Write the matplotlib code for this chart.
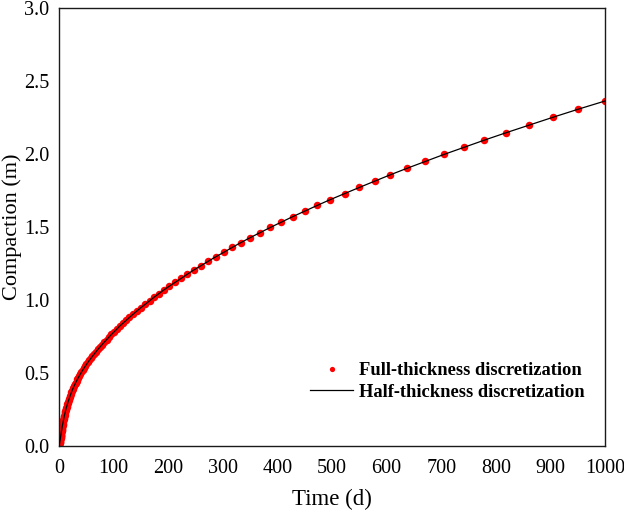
import numpy as np
import matplotlib
matplotlib.use('Agg')
import matplotlib.pyplot as plt

# time (d) and compaction (m)
time_full = [
    0, 0.5, 0.7, 1.0, 1.2, 1.5, 1.7, 2.0, 2.2, 2.5, 2.6, 2.8, 2.9, 3.0, 3.2,
    3.4, 3.5, 3.7, 3.9, 4.1, 4.3, 4.6, 4.8, 5.0, 5.3, 5.6, 5.9, 6.2, 6.5,
    6.8, 7.2, 7.5, 7.9, 8.3, 8.8, 9.2, 9.7, 10.2, 10.7, 11.2, 11.8, 12.4,
    13.0, 13.7, 14.4, 15.1, 15.9, 16.7, 17.6, 18.5, 19.4, 20.4, 21.5, 22.6,
    23.7, 25.0, 26.2, 27.6, 29.0, 30.5, 32.0, 33.7, 35.4, 37.2, 39.1, 41.1,
    43.2, 45.4, 47.7, 50.1, 52.7, 55.4, 58.2, 61.2, 64.3, 67.6, 71.0, 74.7,
    78.5, 82.5, 87, 91, 96, 101, 106, 111, 117, 123, 129, 136, 143, 150,
    158, 166, 174, 183, 192, 202, 213, 224, 235, 247, 260, 273, 287, 302,
    317, 333, 350, 368, 387, 407, 428, 450, 473, 497, 523, 550, 578, 607,
    638, 671, 705, 741, 779, 819, 861, 905, 951, 1000]
comp_full = [
    0, 0.010, 0.014, 0.020, 0.024, 0.030, 0.034, 0.040, 0.044, 0.050, 0.054,
    0.058, 0.062, 0.066, 0.070, 0.074, 0.078, 0.083, 0.088, 0.093, 0.098,
    0.104, 0.109, 0.115, 0.121, 0.128, 0.134, 0.141, 0.147, 0.154, 0.161,
    0.168, 0.176, 0.183, 0.191, 0.199, 0.207, 0.215, 0.223, 0.231, 0.240,
    0.249, 0.258, 0.267, 0.276, 0.285, 0.295, 0.304, 0.314, 0.324, 0.334,
    0.345, 0.356, 0.367, 0.378, 0.390, 0.400, 0.412, 0.423, 0.434, 0.445,
    0.457, 0.469, 0.481, 0.494, 0.506, 0.519, 0.532, 0.545, 0.559, 0.572,
    0.586, 0.600, 0.615, 0.630, 0.645, 0.661, 0.677, 0.694, 0.710, 0.728,
    0.745, 0.764, 0.782, 0.801, 0.821, 0.841, 0.861, 0.882, 0.904, 0.926,
    0.948, 0.971, 0.995, 1.019, 1.044, 1.069, 1.095, 1.122, 1.149, 1.177,
    1.206, 1.235, 1.265, 1.296, 1.327, 1.360, 1.393, 1.427, 1.461, 1.497,
    1.533, 1.571, 1.609, 1.648, 1.688, 1.729, 1.771, 1.814, 1.858, 1.903,
    1.949, 1.997, 2.045, 2.095, 2.146, 2.198, 2.252, 2.307, 2.363]

# half-thickness run lies on top of the full-thickness one
time_half = time_full
comp_half = comp_full

plt.rcParams['font.family'] = ['Liberation Serif', 'DejaVu Serif']

fig = plt.figure(figsize=(6.24, 5.13), dpi=100)
ax = fig.add_axes([0.0946, 0.1306, 0.875, 0.8538])

ax.plot(time_full, comp_full, 'o', color='#ff0000', markersize=5.4,
        markeredgewidth=0, label='Full-thickness discretization', zorder=2)
ax.plot(time_half, comp_half, '-', color='black', linewidth=0.9,
        label='Half-thickness discretization', zorder=3)

ax.set_xlim(0, 1000)
ax.set_ylim(0, 3.0)
ax.set_xticks(np.arange(0, 1001, 100))
ax.set_yticks(np.arange(0, 3.01, 0.5))
ax.set_yticklabels(['%.1f' % v for v in np.arange(0, 3.01, 0.5)])
ax.tick_params(length=0, labelsize=14.5)
ax.tick_params(axis='x', pad=9)
ax.tick_params(axis='y', pad=7)
for s in ax.spines.values():
    s.set_linewidth(1.0)
    s.set_color('#1a1a1a')

ax.set_xlabel('Time (d)', fontsize=16.5, labelpad=8)
ax.set_ylabel('Compaction (m)', fontsize=16, labelpad=1.5)

ax.legend(loc='lower right', frameon=False, prop={'weight': 'bold', 'size': 13.3},
          bbox_to_anchor=(0.963, 0.103), borderaxespad=0, borderpad=0,
          handlelength=2.3, handletextpad=0.34, labelspacing=0.25,
          markerscale=0.7)

fig.savefig('out.png', dpi=100)
